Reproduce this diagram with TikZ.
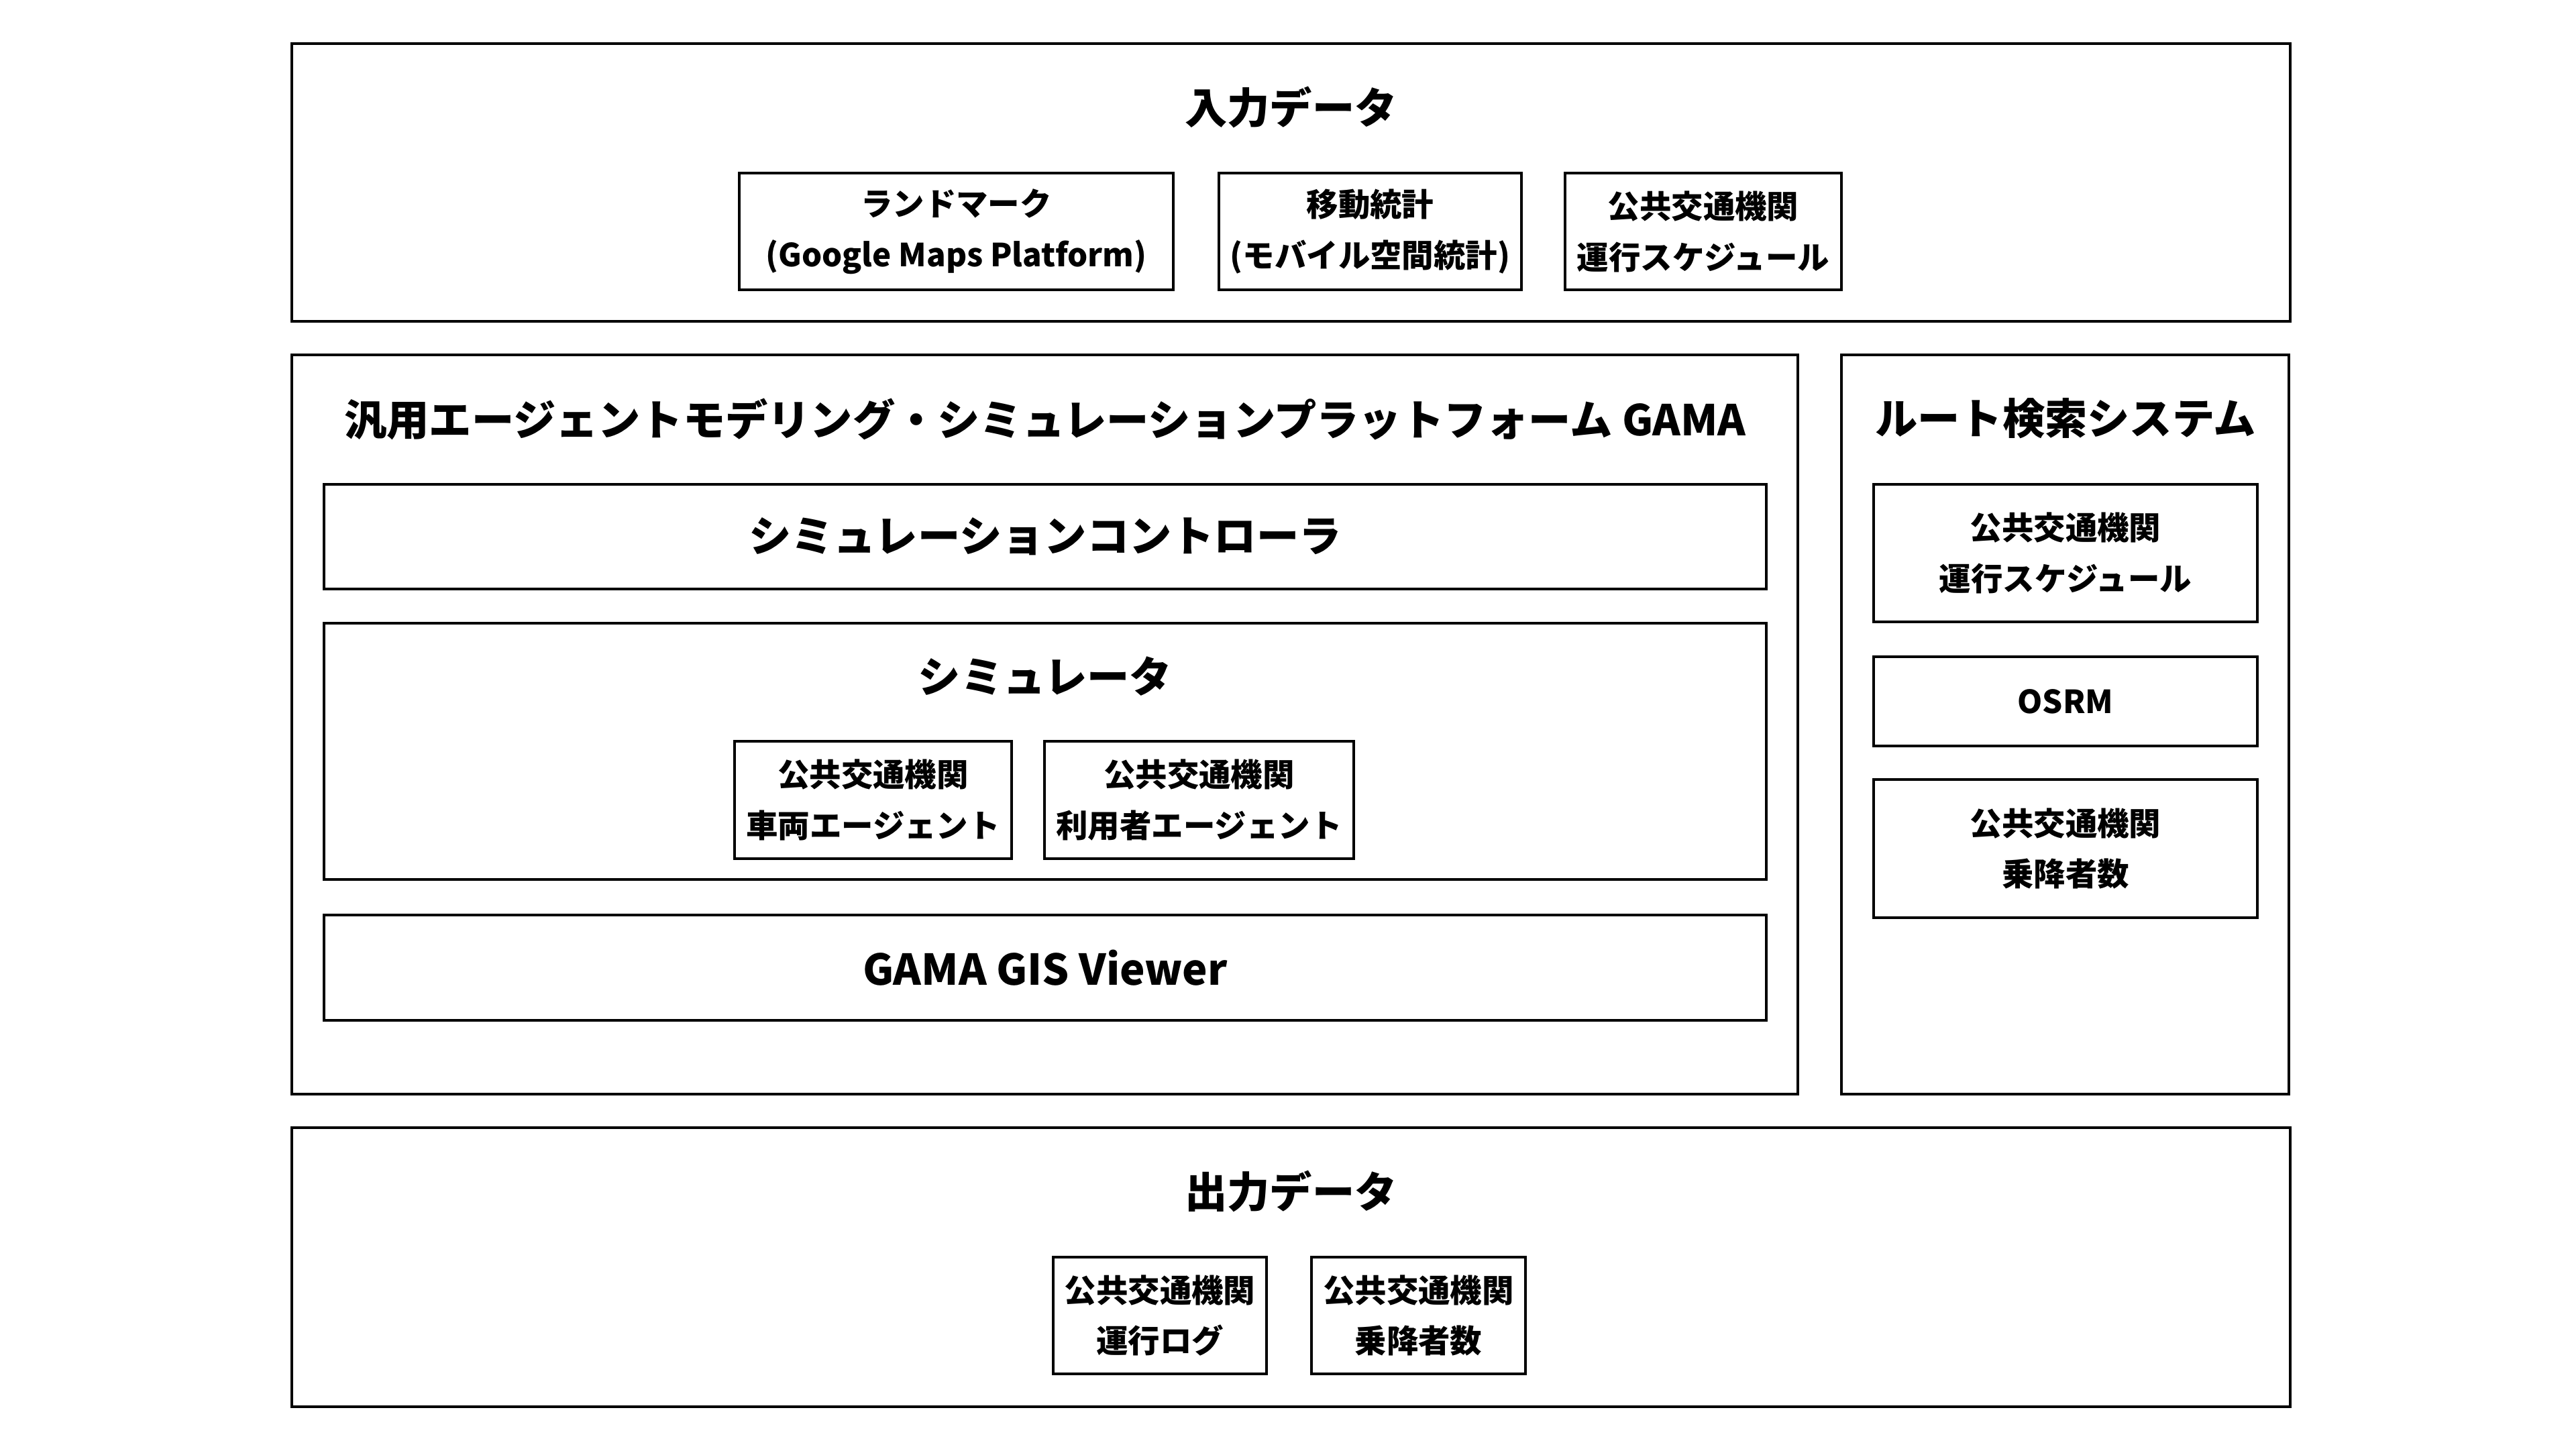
\documentclass[tikz,border=0pt]{standalone}
\usepackage{fontspec}
\setmainfont{Noto Sans CJK JP}
\usepackage{tikz}
\tikzset{
  frame/.style={draw,line width=1pt,inner sep=0pt,outer sep=0pt},
  bigtext/.style={font=\bfseries\fontsize{18}{22}\selectfont},
  smalltext/.style={align=center,font=\bfseries\fontsize{13.5}{21.6}\selectfont}
}
\begin{document}
\begin{tikzpicture} [item/.style= {frame, smalltext},
                     bar/.style= {frame, bigtext, minimum width=21.5cm}]

\useasboundingbox (0,0) rectangle (38.4,-21.6);

\node[frame, minimum width=29.79cm, minimum height=4.14cm] (input) at (19.245,-2.72) {};
\node[bigtext] (inputtitle) at (19.245,-1.60) {入力データ};
\node[item, minimum width=6.47cm, minimum height=1.74cm] (landmark) at (14.255,-3.45) {ランドマーク\\(Google Maps Platform)};
\node[item, minimum width=4.51cm, minimum height=1.74cm] (mobility) at (20.425,-3.45) {移動統計\\(モバイル空間統計)};
\node[item, minimum width=4.12cm, minimum height=1.74cm] (schedin) at (25.39,-3.45) {公共交通機関\\運行スケジュール};

\node[frame, minimum width=22.45cm, minimum height=11.02cm] (gama) at (15.575,-10.80) {};
\node[bigtext] (gamatitle) at (15.58,-6.25) {汎用エージェントモデリング・シミュレーションプラットフォーム GAMA};
\node[bar, minimum height=1.56cm] (controller) at (15.58,-8.00) {シミュレーションコントローラ};
\node[frame, minimum width=21.5cm, minimum height=3.82cm] (simulator) at (15.58,-11.20) {};
\node[bigtext] (simtitle) at (15.58,-10.08) {シミュレータ};
\node[item, minimum width=4.13cm, minimum height=1.75cm] (vehicle) at (13.015,-11.925) {公共交通機関\\車両エージェント};
\node[item, minimum width=4.61cm, minimum height=1.75cm] (user) at (17.875,-11.925) {公共交通機関\\利用者エージェント};
\node[bar, minimum height=1.57cm] (viewer) at (15.58,-14.425) {GAMA GIS Viewer};

\node[frame, minimum width=6.67cm, minimum height=11.02cm] (route) at (30.785,-10.80) {};
\node[bigtext] (routetitle) at (30.79,-6.24) {ルート検索システム};
\node[item, minimum width=5.72cm, minimum height=2.05cm] (schedroute) at (30.79,-8.245) {公共交通機関\\運行スケジュール};
\node[item, minimum width=5.72cm, minimum height=1.33cm] (osrm) at (30.79,-10.455) {OSRM};
\node[item, minimum width=5.72cm, minimum height=2.06cm] (boardroute) at (30.79,-12.65) {公共交通機関\\乗降者数};

\node[frame, minimum width=29.79cm, minimum height=4.16cm] (output) at (19.245,-18.89) {};
\node[bigtext] (outputtitle) at (19.245,-17.76) {出力データ};
\node[item, minimum width=3.18cm, minimum height=1.74cm] (runlog) at (17.29,-19.61) {公共交通機関\\運行ログ};
\node[item, minimum width=3.19cm, minimum height=1.74cm] (boardout) at (21.145,-19.61) {公共交通機関\\乗降者数};

\end{tikzpicture}
\end{document}
